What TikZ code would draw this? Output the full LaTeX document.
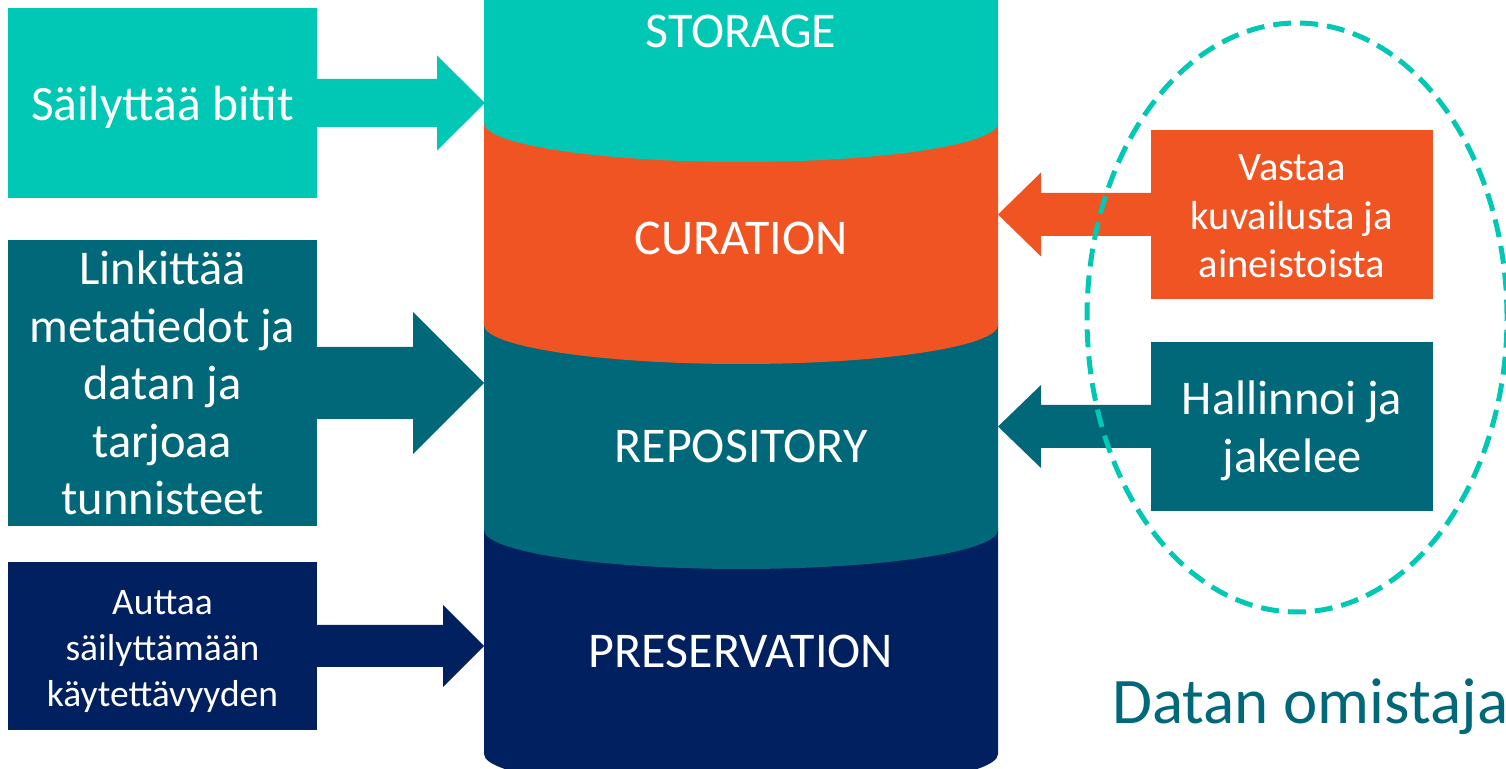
\documentclass[tikz,border=0pt]{standalone}
\usepackage{fontspec}
\setmainfont{Carlito}
\usetikzlibrary{calc}
\definecolor{cTeal}{HTML}{00C8B4}
\definecolor{cOrange}{HTML}{F05423}
\definecolor{cDark}{HTML}{006878}
\definecolor{cNavy}{HTML}{00205F}
% block arrow: colour, from, to, half shaft, half head, head length (signed)
\newcommand{\blkarrow}[6]{%
  \fill[#1] ($(#2)+(0,#4)$) -- ($(#3)+(#6,#4)$) -- ($(#3)+(#6,#5)$) -- (#3)
    -- ($(#3)+(#6,-#5)$) -- ($(#3)+(#6,-#4)$) -- ($(#2)+(0,-#4)$) -- cycle;}
\begin{document}
\begin{tikzpicture}[x=1pt,y=1pt,
  infobox/.style={inner sep=0pt},
  infotext/.style={inner sep=0pt, align=center, text=white},
  layerlabel/.style={inner sep=0pt, text=white, font=\fontsize{50}{60}\selectfont}]
\useasboundingbox (0,0) rectangle (1506,768);
% cylinder layers (bottom first)
\fill[cNavy] (484,240) -- (484,14) arc[start angle=180,end angle=360,x radius=257,y radius=38] -- (998,240) -- cycle;
\fill[cDark] (484,445) -- (484,238) arc[start angle=180,end angle=360,x radius=257,y radius=39] -- (998,445) -- cycle;
\fill[cOrange] (484,647) -- (484,443) arc[start angle=180,end angle=360,x radius=257,y radius=39] -- (998,647) -- cycle;
\fill[cTeal] (484,800) -- (484,645) arc[start angle=180,end angle=360,x radius=257,y radius=39] -- (998,800) -- cycle;
\node[layerlabel] (storage) at (741,736.5) {STORAGE};
\node[layerlabel] (curation) at (741,530) {CURATION};
\node[layerlabel] (repository) at (741,322) {REPOSITORY};
\node[layerlabel] (preservation) at (741,117) {PRESERVATION};
% tips on the cylinder side
\coordinate (t1) at (485,665);
\coordinate (t2) at (484,385);
\coordinate (t3) at (484,122);
\coordinate (t4) at (998,553.5);
\coordinate (t5) at (998,341.5);
% boxes
\node[infobox, fill=cTeal, minimum width=309, minimum height=190] (b1) at (162.5,665) {};
\node[infobox, fill=cDark, minimum width=309, minimum height=286] (b2) at (162.5,385) {};
\node[infobox, fill=cNavy, minimum width=309, minimum height=168] (b3) at (162.5,122) {};
\node[infobox, fill=cOrange, minimum width=282, minimum height=169] (b4) at (1292,553.5) {};
\node[infobox, fill=cDark, minimum width=282, minimum height=169] (b5) at (1292,341.5) {};
% box texts
\node[infotext, font=\fontsize{49.5}{58}\selectfont, yshift=-4] (b1t) at (b1.center) {Säilyttää bitit};
\node[infotext, font=\fontsize{48.5}{57.5}\selectfont] (b2t) at (b2.center)
      {Linkittää\\metatiedot ja\\datan ja\\tarjoaa\\tunnisteet};
\node[infotext, font=\fontsize{37.5}{46}\selectfont, yshift=-5] (b3t) at (b3.center)
      {Auttaa\\säilyttämään\\käytettävyyden};
\node[infotext, font=\fontsize{40.5}{48.5}\selectfont, yshift=-2] (b4t) at (b4.center)
      {Vastaa\\kuvailusta ja\\aineistoista};
\node[infotext, font=\fontsize{48.5}{58}\selectfont, yshift=-4] (b5t) at (b5.center)
      {Hallinnoi ja\\jakelee};
% arrows
\blkarrow{cTeal}{b1.east}{t1}{24}{47.5}{-48}
\blkarrow{cDark}{b2.east}{t2}{36}{71}{-71}
\blkarrow{cNavy}{b3.east}{t3}{21}{41}{-41}
\blkarrow{cOrange}{b4.west}{t4}{21.5}{42}{43}
\blkarrow{cDark}{b5.west}{t5}{21.5}{41.5}{43}
% data owner group
\draw[cTeal, line width=5, dash pattern=on 18 off 9] (1297,450.5) ellipse[x radius=210, y radius=294.5];
\node[anchor=base west, inner sep=0pt, text=cDark, font=\fontsize{65}{78}\selectfont] (owner) at (1112,45) {Datan omistaja};
\end{tikzpicture}
\end{document}
